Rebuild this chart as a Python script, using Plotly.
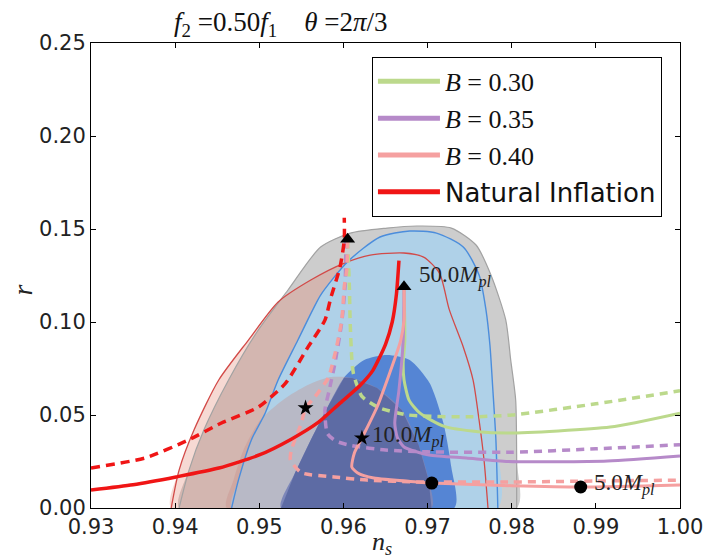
import plotly.graph_objects as go

# ---------------- observational contours (n_s, r) ----------------
gray95_ns = [0.94047, 0.94165, 0.94341, 0.94635, 0.94988, 0.95341, 0.95729, 0.96082, 0.96518,
             0.96871, 0.97282, 0.97576, 0.97753, 0.97929, 0.97988, 0.98047, 0.98059, 0.98059]
gray95_r = [0.0, 0.0204, 0.0419, 0.0688, 0.0957, 0.1172, 0.1403, 0.1478, 0.1505,
            0.1516, 0.1505, 0.1414, 0.1253, 0.1011, 0.0796, 0.0581, 0.0258, 0.0]

red95_ns = [0.93953, 0.94047, 0.94224, 0.94518, 0.94871, 0.95224, 0.95612, 0.96012, 0.96318,
            0.96718, 0.96953, 0.97141, 0.97259, 0.97424, 0.97541, 0.97612, 0.97671, 0.97718]
red95_r = [0.0, 0.0204, 0.0419, 0.0688, 0.0903, 0.1108, 0.1226, 0.1317, 0.1360,
           0.1371, 0.1349, 0.1263, 0.1065, 0.0866, 0.0688, 0.0473, 0.0258, 0.0]

blue95_ns = [0.94671, 0.94753, 0.94906, 0.95071, 0.95224, 0.95459, 0.95635, 0.95729, 0.96047,
             0.96435, 0.96788, 0.97106, 0.97424, 0.97612, 0.97694, 0.97741, 0.97776, 0.97812, 0.97835]
blue95_r = [0.0, 0.0151, 0.0366, 0.0511, 0.0688, 0.0903, 0.1065, 0.1145, 0.1323,
            0.1457, 0.1489, 0.1478, 0.1403, 0.1253, 0.1065, 0.0876, 0.0634, 0.0366, 0.0]

blue68_ns = [0.95259, 0.95424, 0.95612, 0.95812, 0.96012, 0.96247, 0.96518, 0.96788, 0.97024,
             0.97188, 0.97282, 0.97318]
blue68_r = [0.0, 0.0188, 0.0366, 0.0543, 0.0704, 0.0796, 0.0823, 0.0796, 0.0672,
            0.0457, 0.0220, 0.0]

red68_ns = [0.94612, 0.94694, 0.94812, 0.95012, 0.95282, 0.95576, 0.95847, 0.96106, 0.96400,
            0.96694, 0.96894, 0.97012, 0.97047]
red68_r = [0.0, 0.0151, 0.0312, 0.0473, 0.0581, 0.0661, 0.0704, 0.0699, 0.0645,
           0.0527, 0.0339, 0.0151, 0.0]

# ---------------- model curves ----------------
ni_solid_ns = [0.9300, 0.9350, 0.9401, 0.9452, 0.9500, 0.9538, 0.9570, 0.9595, 0.9620,
               0.9635, 0.9650, 0.9658, 0.9663, 0.9666]
ni_solid_r = [0.0097, 0.0125, 0.0167, 0.0215, 0.0285, 0.0370, 0.0460, 0.0560, 0.0660,
              0.0740, 0.0880, 0.1000, 0.1150, 0.1330]
ni_dash_ns = [0.9300, 0.9365, 0.9416, 0.9455, 0.9499, 0.9531, 0.9558, 0.9578, 0.9585,
              0.9596, 0.9601, 0.9601]
ni_dash_r = [0.0215, 0.0270, 0.0366, 0.0457, 0.0543, 0.0670, 0.0866, 0.1010, 0.1130,
             0.1296, 0.1440, 0.1560]

b30_solid_ns = [0.9672, 0.9673, 0.9671, 0.9672, 0.9678, 0.9691, 0.9719, 0.9760, 0.9797, 0.9917, 1.000]
b30_solid_r = [0.119, 0.090, 0.078, 0.069, 0.058, 0.051, 0.044, 0.041, 0.0403, 0.0435, 0.051]
b30_dash_ns = [0.9605, 0.9607, 0.9608, 0.9610, 0.9612, 0.9622, 0.9642, 0.9677, 0.9750, 0.9800, 0.9900, 1.000]
b30_dash_r = [0.144, 0.120, 0.100, 0.080, 0.072, 0.060, 0.054, 0.050, 0.049, 0.050, 0.056, 0.063]

b35_solid_ns = [0.9672, 0.9671, 0.9666, 0.9661, 0.9664, 0.9672, 0.9702, 0.9746, 0.9796, 0.9914, 1.000]
b35_solid_r = [0.119, 0.090, 0.0634, 0.0457, 0.038, 0.0328, 0.0285, 0.0269, 0.0250, 0.0253, 0.0280]
b35_dash_ns = [0.9603, 0.9602, 0.9598, 0.9590, 0.9583, 0.9578, 0.9581, 0.9591, 0.9610, 0.9650,
               0.9700, 0.9800, 0.9900, 1.000]
b35_dash_r = [0.144, 0.120, 0.100, 0.078, 0.063, 0.0527, 0.040, 0.036, 0.0335, 0.0312,
              0.0302, 0.0300, 0.0318, 0.0340]

b40_solid_ns = [0.9672, 0.9672, 0.9668, 0.9655, 0.9640, 0.9625, 0.9622, 0.9613, 0.9610, 0.9617,
                0.9636, 0.9687, 0.9705, 0.9800, 0.9882, 1.000]
b40_solid_r = [0.119, 0.101, 0.090, 0.0726, 0.0543, 0.0403, 0.0376, 0.0296, 0.0220, 0.0188,
               0.0161, 0.0140, 0.0134, 0.0120, 0.0113, 0.0124]
b40_dash_ns = [0.9605, 0.9604, 0.9601, 0.9598, 0.9590, 0.9582, 0.9566, 0.9555, 0.9550, 0.9538,
               0.9537, 0.9550, 0.9589, 0.9628, 0.9687, 0.9800, 0.9900, 1.000]
b40_dash_r = [0.144, 0.128, 0.119, 0.101, 0.083, 0.070, 0.0597, 0.0538, 0.0457, 0.031,
              0.0258, 0.019, 0.0167, 0.0150, 0.0140, 0.0140, 0.0145, 0.0150]

# markers
tri_ns = [0.9605, 0.9672]
tri_r = [0.1445, 0.1190]
star_ns = [0.9555, 0.9622]
star_r = [0.0538, 0.0376]
dot_ns = [0.9705, 0.9882]
dot_r = [0.0134, 0.0113]

labels_text = ["50.0<i>M</i><sub><i>pl</i></sub>", "10.0<i>M</i><sub><i>pl</i></sub>", "5.0<i>M</i><sub><i>pl</i></sub>"]
labels_ns = [0.9687, 0.9632, 0.9896]
labels_r = [0.1242, 0.0382, 0.0124]

legend_names = ["<i>B</i> = 0.30", "<i>B</i> = 0.35", "<i>B</i> = 0.40", "Natural Inflation"]

x_ticks = [0.93, 0.94, 0.95, 0.96, 0.97, 0.98, 0.99, 1.00]
y_ticks = [0.00, 0.05, 0.10, 0.15, 0.20, 0.25]

GREEN = "#bcd98c"
PURPLE = "#b68ac9"
PINK = "#f5a0a0"
RED = "#f01515"
SERIF = "Liberation Serif"


def clip_polygon(subj, clipper):
    """Sutherland-Hodgman clipping of subj by convex clipper."""
    def area(p):
        s = 0.0
        for i in range(len(p)):
            x1, y1 = p[i]
            x2, y2 = p[(i + 1) % len(p)]
            s += x1 * y2 - x2 * y1
        return s
    sign = 1.0 if area(clipper) > 0 else -1.0

    def inside(p, a, b):
        return sign * ((b[0] - a[0]) * (p[1] - a[1]) - (b[1] - a[1]) * (p[0] - a[0])) >= 0

    def inter(p, q, a, b):
        x1, y1 = p; x2, y2 = q; x3, y3 = a; x4, y4 = b
        den = (x1 - x2) * (y3 - y4) - (y1 - y2) * (x3 - x4)
        t = ((x1 - x3) * (y3 - y4) - (y1 - y3) * (x3 - x4)) / den
        return (x1 + t * (x2 - x1), y1 + t * (y2 - y1))

    out = list(subj)
    for i in range(len(clipper)):
        a = clipper[i]
        b = clipper[(i + 1) % len(clipper)]
        inp = out
        out = []
        if not inp:
            break
        s = inp[-1]
        for e in inp:
            if inside(e, a, b):
                if not inside(s, a, b):
                    out.append(inter(s, e, a, b))
                out.append(e)
            elif inside(s, a, b):
                out.append(inter(s, e, a, b))
            s = e
    return out


fig = go.Figure()


def fill(xs, ys, color, smooth=True):
    fig.add_trace(go.Scatter(x=list(xs) + [xs[0]], y=list(ys) + [ys[0]], mode="lines",
                             fill="toself", fillcolor=color,
                             line=dict(width=0, shape="spline" if smooth else "linear", smoothing=0.7),
                             hoverinfo="skip", showlegend=False))


def edge(xs, ys, color, w=1.2):
    fig.add_trace(go.Scatter(x=xs, y=ys, mode="lines",
                             line=dict(color=color, width=w, shape="spline", smoothing=0.7),
                             hoverinfo="skip", showlegend=False))


fill(gray95_ns, gray95_r, "#cdcdcd")
fill(red95_ns, red95_r, "rgba(225,128,108,0.30)")
edge(gray95_ns, gray95_r, "#a2a2a2", 1.2)
fill(blue95_ns, blue95_r, "#afd1e8")
fill(blue68_ns, blue68_r, "#5585d4")
fill(red68_ns, red68_r, "rgba(200,140,135,0.35)")
ov = clip_polygon(list(zip(red68_ns, red68_r)), list(zip(blue68_ns, blue68_r)))
if ov:
    fill([p[0] for p in ov], [p[1] for p in ov], "#5d6ba4", smooth=False)
edge(red95_ns, red95_r, "#d24a48", 1.3)
edge(blue95_ns, blue95_r, "#4b8ddc", 1.4)


def curve(xs, ys, color, w, dash=None):
    fig.add_trace(go.Scatter(x=xs, y=ys, mode="lines",
                             line=dict(color=color, width=w, dash=dash, shape="spline", smoothing=0.6),
                             hoverinfo="skip", showlegend=False))


curve(b30_dash_ns, b30_dash_r, GREEN, 3.5, "8px,6px")
curve(b35_dash_ns, b35_dash_r, PURPLE, 3.5, "8px,6px")
curve(b40_dash_ns, b40_dash_r, PINK, 3.5, "8px,6px")
curve(b30_solid_ns, b30_solid_r, GREEN, 3)
curve(b35_solid_ns, b35_solid_r, PURPLE, 3)
curve(b40_solid_ns, b40_solid_r, PINK, 3)
curve(ni_dash_ns, ni_dash_r, RED, 3.5, "9px,6px")
curve(ni_solid_ns, ni_solid_r, RED, 3.5)

fig.add_trace(go.Scatter(x=tri_ns, y=tri_r, mode="markers",
                         marker=dict(symbol="triangle-up", size=13, color="black"),
                         hoverinfo="skip", showlegend=False))
fig.add_trace(go.Scatter(x=star_ns, y=star_r, mode="markers",
                         marker=dict(symbol="star", size=12, color="black"),
                         hoverinfo="skip", showlegend=False))
fig.add_trace(go.Scatter(x=dot_ns, y=dot_r, mode="markers",
                         marker=dict(symbol="circle", size=13, color="black"),
                         hoverinfo="skip", showlegend=False))

# legend entries
for name, col in zip(legend_names, [GREEN, PURPLE, PINK, RED]):
    if name.startswith("<i>B"):
        nm = '<span style="font-family:Liberation Serif">' + name + "</span>"
    else:
        nm = name
    fig.add_trace(go.Scatter(x=[None], y=[None], mode="lines", name=nm,
                             line=dict(color=col, width=5), legendgroup=name))

for t, xv, yv in zip(labels_text, labels_ns, labels_r):
    fig.add_annotation(x=xv, y=yv, text=t, showarrow=False, xanchor="left", yanchor="middle",
                       font=dict(family=SERIF, size=23, color="#222"))

fig.add_annotation(x=0.138, y=1.04, xref="paper", yref="paper", showarrow=False,
                   text="<i>f</i><sub>2</sub> =0.50<i>f</i><sub>1</sub>&nbsp;&nbsp;&nbsp;&nbsp;<i>θ</i> =2<i>π</i>/3",
                   font=dict(family=SERIF, size=27, color="#111"), xanchor="left", yanchor="middle")
fig.add_annotation(x=0.494, y=-0.113, xref="paper", yref="paper", showarrow=False,
                   text="<i>n</i><sub><i>s</i></sub>", font=dict(family=SERIF, size=26, color="#222"),
                   yanchor="bottom")
fig.add_annotation(x=-0.116, y=0.469, xref="paper", yref="paper", showarrow=False,
                   text="<i>r</i>", textangle=-90, font=dict(family=SERIF, size=28, color="#222"),
                   xanchor="center", yanchor="middle")

fig.update_layout(
    width=715, height=560,
    margin=dict(l=91, r=29, t=43, b=52),
    plot_bgcolor="white", paper_bgcolor="white",
    font=dict(family="DejaVu Sans", size=21, color="#222"),
    legend=dict(x=0.477, y=0.97, xanchor="left", yanchor="top",
                bordercolor="black", borderwidth=1, bgcolor="white",
                font=dict(family="DejaVu Sans", size=26, color="#111"),
                itemwidth=62, tracegroupgap=0, traceorder="grouped"),
)
fig.update_xaxes(range=[0.93, 1.0], tickvals=x_ticks, ticktext=[f"{v:.2f}" for v in x_ticks],
                 showgrid=False, zeroline=False, showline=True, linecolor="black", linewidth=1,
                 mirror="ticks", ticks="inside", ticklen=5, tickcolor="black")
fig.update_yaxes(range=[0.0, 0.25], tickvals=y_ticks, ticktext=[f"{v:.2f}" for v in y_ticks],
                 showgrid=False, zeroline=False, showline=True, linecolor="black", linewidth=1,
                 mirror="ticks", ticks="inside", ticklen=5, tickcolor="black")

fig.write_html("out.html")
